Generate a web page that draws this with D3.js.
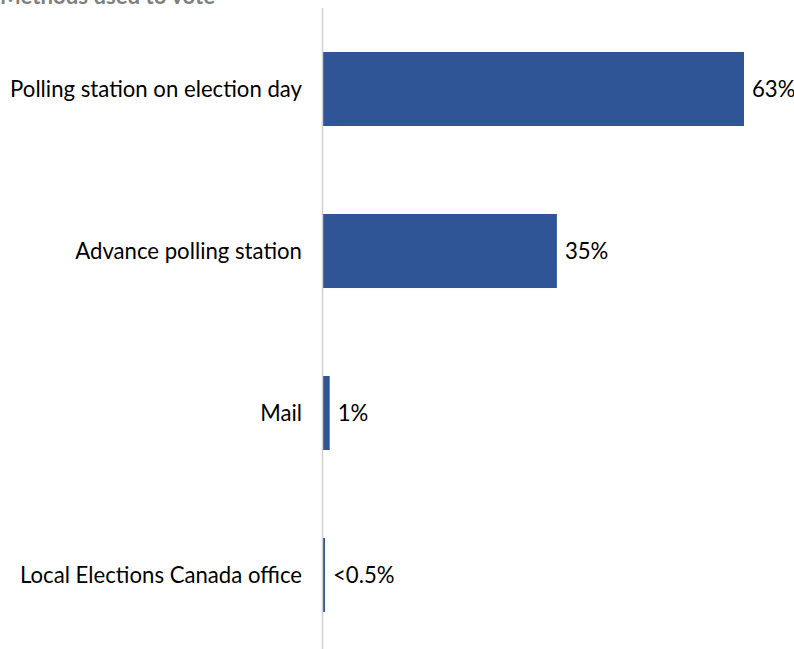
<!DOCTYPE html>
<html>
<head>
<meta charset="utf-8">
<script src="https://cdn.jsdelivr.net/npm/d3@7"></script>
<style>
  html, body { margin: 0; padding: 0; background: #fff; }
  svg { display: block; }
</style>
</head>
<body>
<div id="chart"></div>
<script>
const categories = ["Polling station on election day", "Advance polling station", "Mail", "Local Elections Canada office"];
const values = [63, 35, 1, 0.3];
const valueLabels = ["63%", "35%", "1%", "<0.5%"];
const title = "Methods used to vote";

const W = 794, H = 649;
const font = "Lato, 'Open Sans', sans-serif";

const svg = d3.select("#chart").append("svg")
  .attr("width", W).attr("height", H);

// fit font size so the longest label spans like the reference
const probe = svg.append("text").attr("font-family", font).attr("font-size", 20).text(categories[0]);
const fs = 20 * 292 / probe.node().getComputedTextLength();
probe.remove();

const x = d3.scaleLinear().domain([0, 63]).range([323, 744]);
const y = d3.scaleBand().domain(categories).range([8, 656])
  .paddingInner(0.543).paddingOuter(0.2715);

// title (clipped at top like the reference)
svg.append("text")
  .attr("x", 0).attr("y", 4)
  .attr("font-family", font).attr("font-weight", "bold")
  .attr("font-size", fs).attr("fill", "#7f7f7f")
  .text(title);

// bars
svg.selectAll("rect.bar").data(categories).join("rect")
  .attr("class", "bar")
  .attr("x", x(0))
  .attr("y", d => y(d))
  .attr("width", (d, i) => x(values[i]) - x(0))
  .attr("height", y.bandwidth())
  .attr("fill", "#2f5597");

// axis line
svg.append("line")
  .attr("x1", x(0) - 0.5).attr("x2", x(0) - 0.5)
  .attr("y1", 8).attr("y2", H)
  .attr("stroke", "#d0d0d0").attr("stroke-width", 1.5);

// category labels
svg.selectAll("text.cat").data(categories).join("text")
  .attr("class", "cat")
  .attr("x", 302)
  .attr("y", d => y(d) + y.bandwidth() / 2)
  .attr("dy", "0.35em")
  .attr("text-anchor", "end")
  .attr("font-family", font).attr("font-size", fs)
  .attr("fill", "#000")
  .text(d => d);

// value labels
svg.selectAll("text.val").data(categories).join("text")
  .attr("class", "val")
  .attr("x", (d, i) => x(values[i]) + 8)
  .attr("y", d => y(d) + y.bandwidth() / 2)
  .attr("dy", "0.35em")
  .attr("font-family", font).attr("font-size", fs)
  .attr("fill", "#000")
  .text((d, i) => valueLabels[i]);
</script>
</body>
</html>
